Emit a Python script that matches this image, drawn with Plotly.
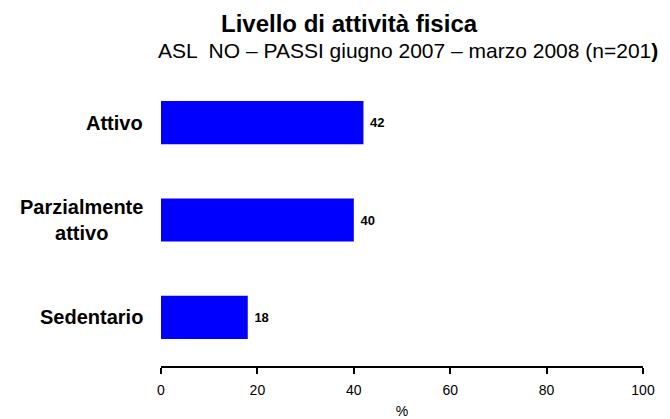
import plotly.graph_objects as go

categories = ["Sedentario", "Parzialmente<br>attivo", "Attivo"]
values = [18, 40, 42]
x_ticks = [0, 20, 40, 60, 80, 100]

title_text = "<b>Livello di attività fisica</b>"
subtitle_text = "ASL  NO – PASSI giugno 2007 – marzo 2008 (n=201<b>)</b>"

FONT = "Liberation Sans, Arial, sans-serif"

fig = go.Figure()
fig.add_trace(go.Bar(
    x=values,
    y=categories,
    orientation="h",
    marker=dict(color="#0000FF", line=dict(width=0)),
    text=values,
    texttemplate=" <b>%{x}</b>",
    textposition="outside",
    textfont=dict(family=FONT, size=13, color="black"),
    cliponaxis=False,
    hoverinfo="skip",
))

annotations = []
for c in categories:
    annotations.append(dict(
        x=-0.033, xref="paper", y=c, yref="y",
        text="<b>" + c + "</b>", showarrow=False,
        xanchor="right", yanchor="middle", align="center",
        font=dict(family=FONT, size=20, color="black"),
    ))
annotations.append(dict(
    x=0.392, xref="paper", y=1.173, yref="paper",
    text=title_text, showarrow=False, xanchor="center", yanchor="middle",
    font=dict(family=FONT, size=24, color="black"),
))
annotations.append(dict(
    x=0.512, xref="paper", y=1.08, yref="paper",
    text=subtitle_text, showarrow=False, xanchor="center", yanchor="middle",
    font=dict(family=FONT, size=21, color="black"),
))

# page body has an 8px margin, so the figure is sized to fill the rest of the window
fig.update_layout(
    width=662, height=411,
    margin=dict(l=153, r=27, t=66, b=53, autoexpand=False),
    paper_bgcolor="white", plot_bgcolor="white",
    showlegend=False,
    bargap=0.557,
    annotations=annotations,
    font=dict(family=FONT, color="black"),
)
fig.update_xaxes(
    range=[0, 100], tickvals=x_ticks, ticktext=[str(t) for t in x_ticks],
    showline=True, linecolor="black", linewidth=2,
    ticks="outside", ticklen=6, tickwidth=2, tickcolor="black",
    ticklabelstandoff=4,
    showgrid=False, zeroline=False, automargin=False,
    tickfont=dict(family=FONT, size=14, color="black"),
    title=dict(text="%", font=dict(family=FONT, size=14, color="black"), standoff=14),
)
fig.update_yaxes(
    categoryorder="array", categoryarray=categories,
    showticklabels=False, showline=False, showgrid=False, zeroline=False, ticks="",
    automargin=False,
)

fig.write_html("out.html")
